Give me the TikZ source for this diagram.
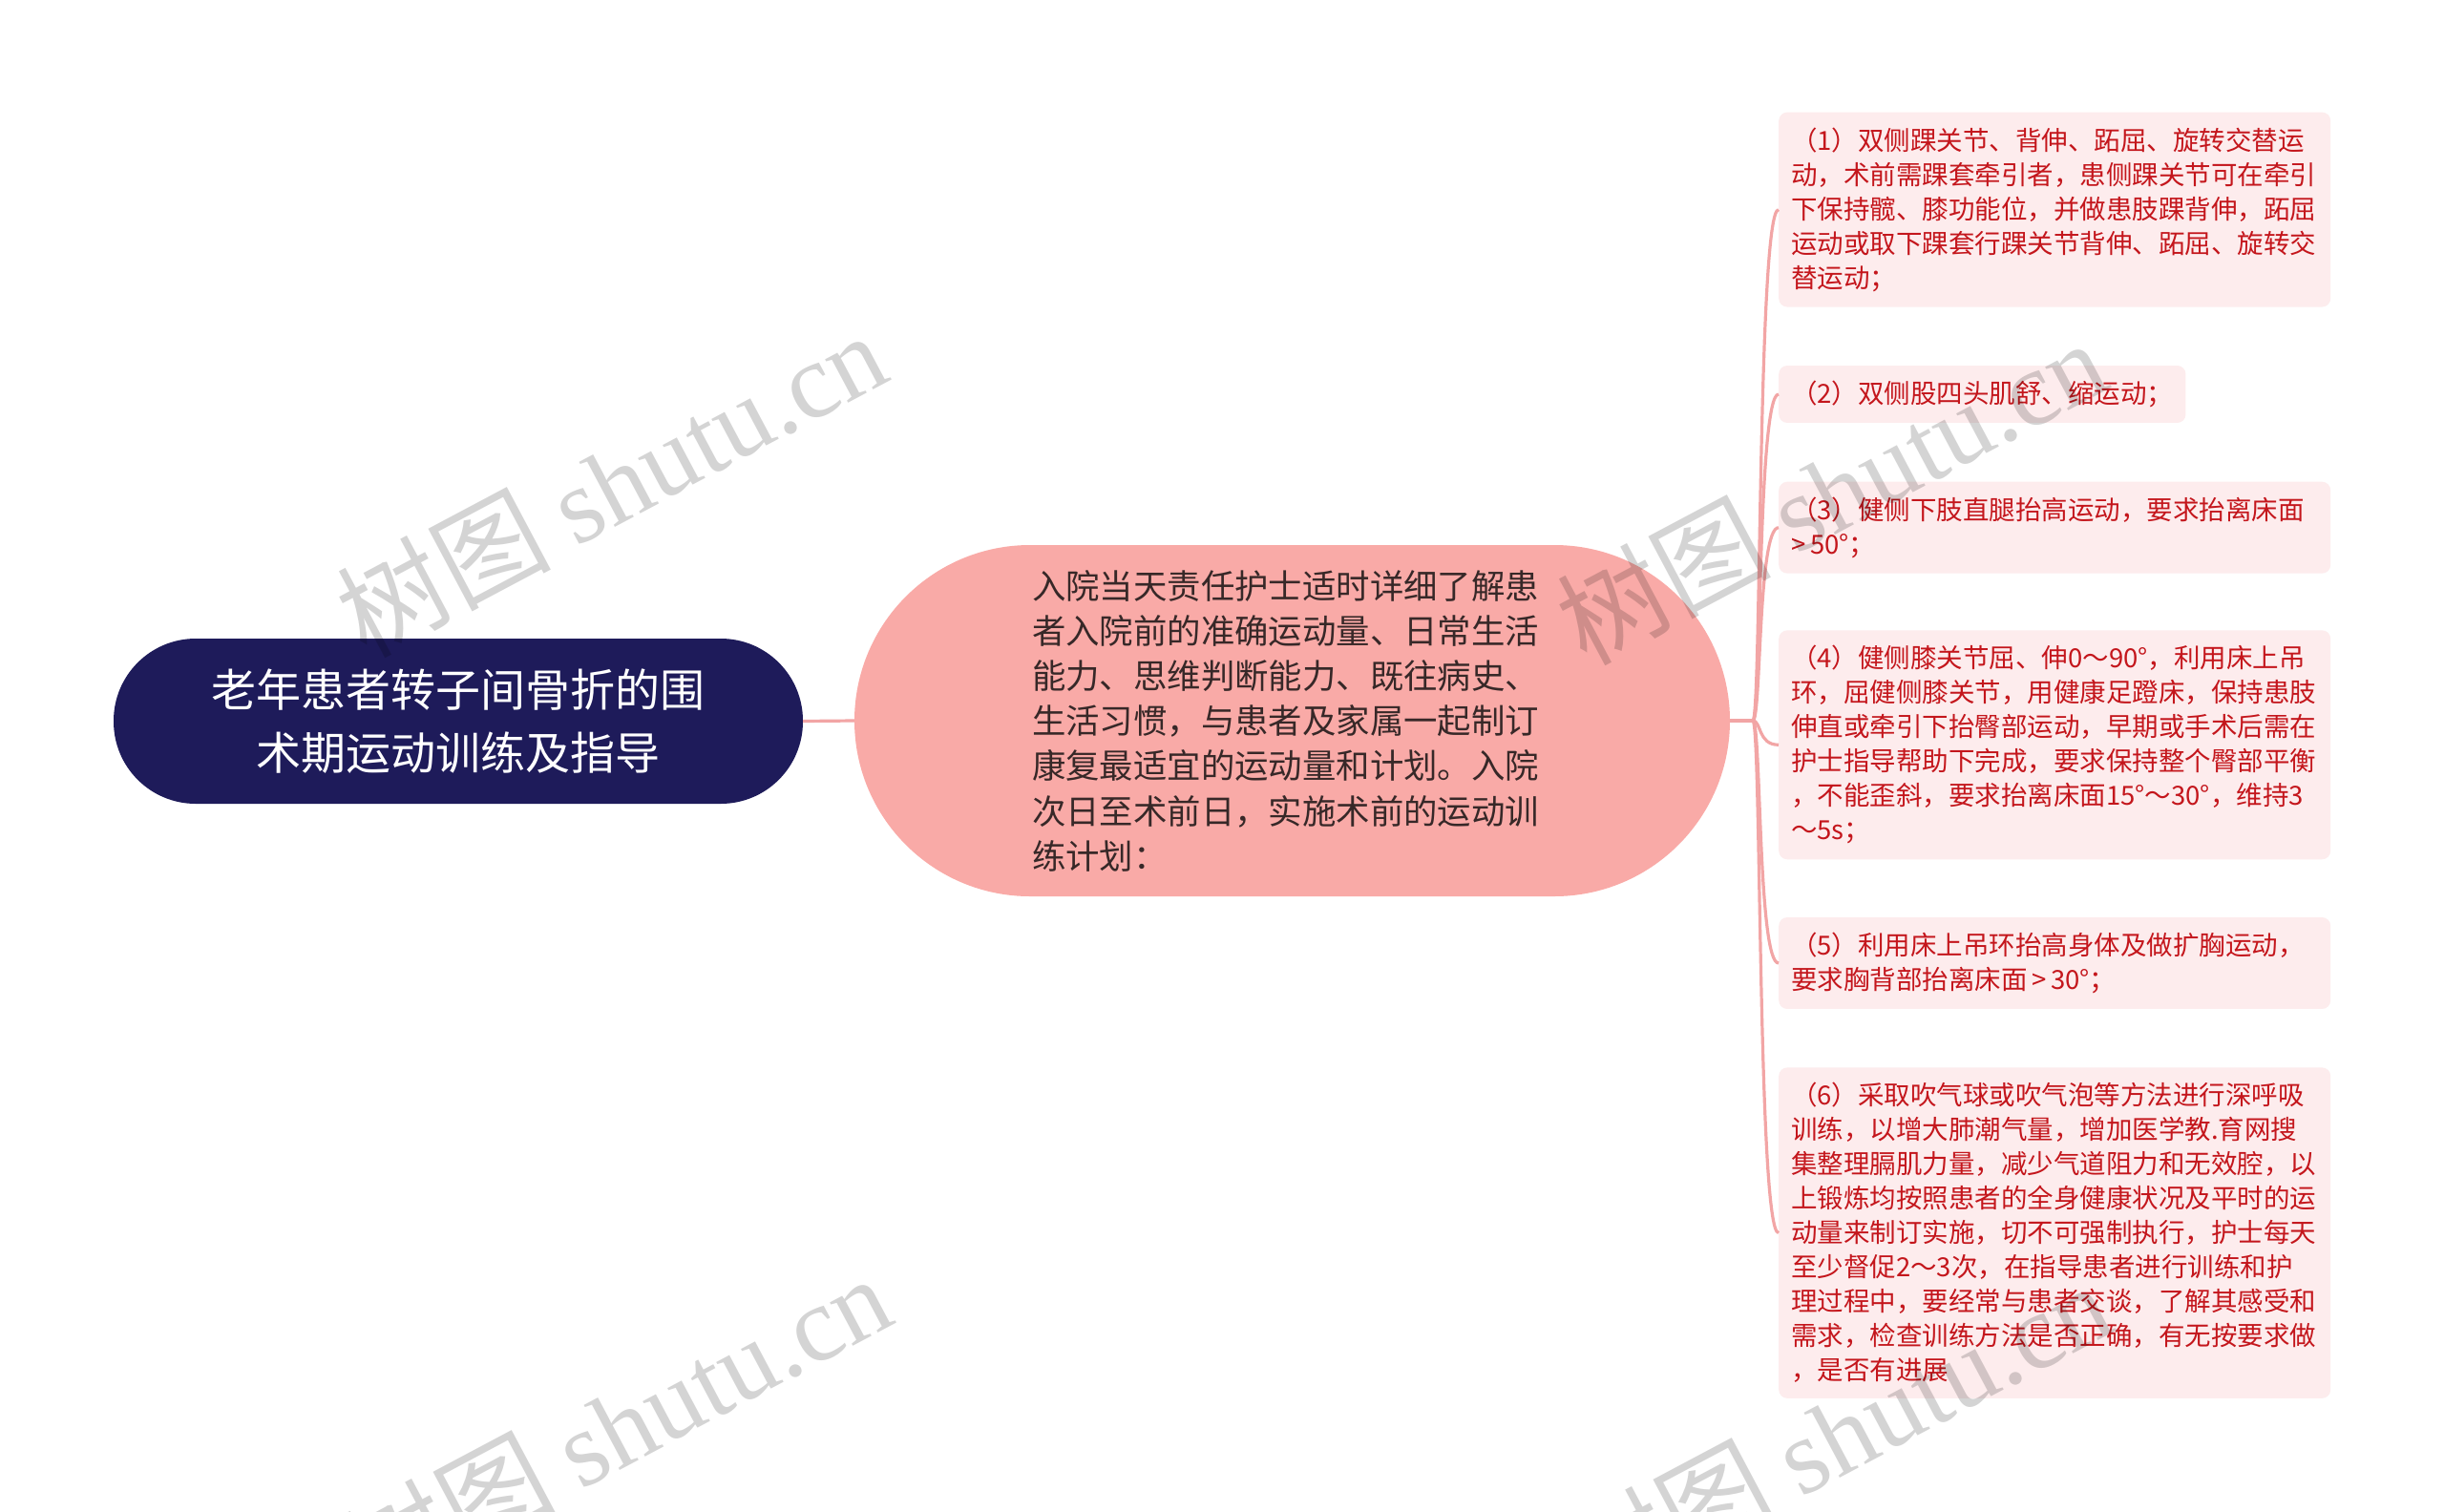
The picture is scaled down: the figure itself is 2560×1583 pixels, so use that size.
\documentclass[tikz,border=0pt]{standalone}
\usepackage{fontspec}
\setmainfont{Noto Sans CJK SC}
\newfontfamily\wmcjk{Noto Sans CJK SC}
\newfontfamily\wmlat{Liberation Serif}
\usetikzlibrary{calc}
\definecolor{rootfill}{RGB}{30,27,90}
\definecolor{midfill}{RGB}{249,170,167}
\definecolor{midtext}{RGB}{55,40,40}
\definecolor{leaffill}{RGB}{253,236,237}
\definecolor{leaftext}{RGB}{196,22,28}
\definecolor{conncol}{RGB}{242,165,165}
\tikzset{
  rootnode/.style={rectangle, rounded corners=86pt, fill=rootfill, text=white,
    minimum width=722pt, minimum height=173pt, align=center,
    font=\fontsize{47}{66}\selectfont},
  midnode/.style={rectangle, rounded corners=184pt, fill=midfill, text=midtext,
    minimum width=917pt, minimum height=368pt, text width=545pt, align=left,
    font=\fontsize{35.4}{47.2}\selectfont},
  leaf/.style={rectangle, rounded corners=9pt, fill=leaffill, text=leaftext,
    anchor=west, inner xsep=13pt, inner ysep=16pt, align=left,
    font=\fontsize{27.5}{36}\selectfont},
  wideleaf/.style={leaf, text width=552pt},
  conn/.style={draw=conncol, line width=3.2pt},
  wm/.style={rotate=28, text=black, opacity=0.17, font=\fontsize{112}{112}\selectfont}
}
\begin{document}
\begin{tikzpicture}[x=1pt,y=-1pt]
\path[use as bounding box, fill=white] (0,0) rectangle (2560,1583);

\node[rootnode] (root) at (480,755.5) {老年患者转子间骨折的围\\术期运动训练及指导};
\node[midnode] (mid) at (1353.5,755) {入院当天责任护士适时详细了解患\\者入院前的准确运动量、日常生活\\能力、思维判断能力、既往病史、\\生活习惯，与患者及家属一起制订\\康复最适宜的运动量和计划。入院\\次日至术前日，实施术前的运动训\\练计划：};

\node[wideleaf] (b1) at (1863,219.6) {（1）双侧踝关节、背伸、跖屈、旋转交替运\\动，术前需踝套牵引者，患侧踝关节可在牵引\\下保持髋、膝功能位，并做患肢踝背伸，跖屈\\运动或取下踝套行踝关节背伸、跖屈、旋转交\\替运动；};
\node[leaf] (b2) at (1863,413) {（2）双侧股四头肌舒、缩运动；};
\node[wideleaf] (b3) at (1863,552.7) {（3）健侧下肢直腿抬高运动，要求抬离床面\\>\,50°；};
\node[wideleaf] (b4) at (1863,780.3) {（4）健侧膝关节屈、伸0～90°，利用床上吊\\环，屈健侧膝关节，用健康足蹬床，保持患肢\\伸直或牵引下抬臀部运动，早期或手术后需在\\护士指导帮助下完成，要求保持整个臀部平衡\\，不能歪斜，要求抬离床面15°～30°，维持3\\～5s；};
\node[wideleaf] (b5) at (1863,1009) {（5）利用床上吊环抬高身体及做扩胸运动，\\要求胸背部抬离床面\,>\,30°；};
\node[wideleaf] (b6) at (1863,1291.6) {（6）采取吹气球或吹气泡等方法进行深呼吸\\训练，以增大肺潮气量，增加医学教.育网搜\\集整理膈肌力量，减少气道阻力和无效腔，以\\上锻炼均按照患者的全身健康状况及平时的运\\动量来制订实施，切不可强制执行，护士每天\\至少督促2～3次，在指导患者进行训练和护\\理过程中，要经常与患者交谈，了解其感受和\\需求，检查训练方法是否正确，有无按要求做\\，是否有进展};

\coordinate (hub) at (1836,755);
\draw[conn] (root.east) -- (mid.west);
\draw[conn] (mid.east) -- (hub);
\foreach \b in {b1,b2,b3,b4,b5,b6}{
  \draw[conn] (hub) .. controls ($(hub)+(9,0)$) and ($(\b.west)+(-22,0)$) .. (\b.west);
}

\node[wm] (wm1) at (640,506) {\wmcjk 树图\ \wmlat shutu.cn};
\node[wm] (wm2) at (1918,514) {\wmcjk 树图\ \wmlat shutu.cn};
\node[wm] (wm3) at (645,1494) {\wmcjk 树图\ \wmlat shutu.cn};
\node[wm] (wm4) at (1923,1502) {\wmcjk 树图\ \wmlat shutu.cn};
\end{tikzpicture}
\end{document}
